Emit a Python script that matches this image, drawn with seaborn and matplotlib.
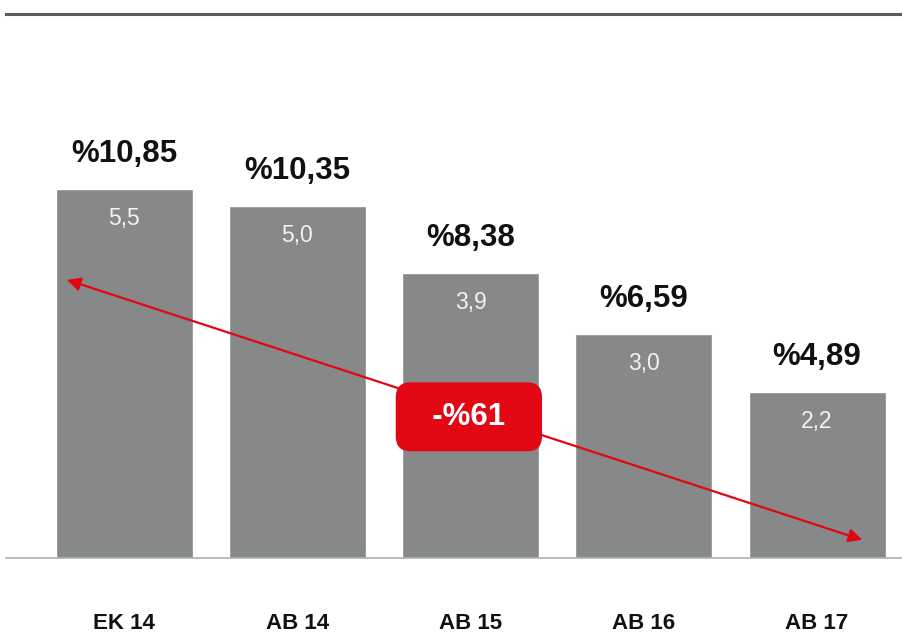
import seaborn as sns
import matplotlib.pyplot as plt
import pandas as pd

# values
periods = ["EK 14", "AB 14", "AB 15", "AB 16", "AB 17"]
rates = [10.85, 10.35, 8.38, 6.59, 4.89]
inner_vals = [5.5, 5.0, 3.9, 3.0, 2.2]
change_label = "-%61"

df = pd.DataFrame({"period": periods, "rate": rates})

sns.set_theme(style="white")
plt.rcParams['font.family'] = ['Liberation Sans', 'DejaVu Sans']

bar_grey = "#878889"
red = "#e30613"

fig = plt.figure(figsize=(9.02, 6.39), dpi=100)
ax = fig.add_axes([0.007, 0.127, 0.993, 0.851])

sns.barplot(data=df, x="period", y="rate", color=bar_grey, saturation=1,
            width=0.79, ax=ax)

ax.set_ylim(0, 16)
ax.set_xlim(-0.68, 4.49)

# labels above and inside the bars
for i, (r, v) in enumerate(zip(rates, inner_vals)):
    ax.text(i, r + 1.03, "%" + f"{r:.2f}".replace(".", ","), ha="center",
            va="center", fontsize=22.5, fontweight="bold", color="#111111")
    ax.text(i, r - 0.88, f"{v:.1f}".replace(".", ","), ha="center",
            va="center", fontsize=16.5, color="#f2f2f2")

# trend arrow from first to last bar
ax.annotate("", xy=(4.26, 0.53), xytext=(-0.33, 8.18),
            arrowprops=dict(arrowstyle="<|-|>", color=red, lw=1.6,
                            mutation_scale=20, shrinkA=0, shrinkB=0))

ax.text(1.99, 4.15, "  " + change_label + "  ", ha="center", va="center",
        fontsize=22.5, fontweight="bold", color="white",
        bbox=dict(boxstyle="round,pad=0.6,rounding_size=0.45",
                  fc=red, ec=red))

for s in ["left", "right"]:
    ax.spines[s].set_visible(False)
ax.spines["top"].set_color("#5a5a5a")
ax.spines["top"].set_linewidth(2.2)
ax.spines["bottom"].set_color("#aab2b2")
ax.spines["bottom"].set_linewidth(1.2)

ax.set_xlabel("")
ax.set_ylabel("")
ax.set_yticks([])
ax.tick_params(axis="x", length=0, pad=40)
for lab in ax.get_xticklabels():
    lab.set_fontweight("bold")
    lab.set_fontsize(16)
    lab.set_color("#111111")

fig.savefig("out.png", dpi=100)
